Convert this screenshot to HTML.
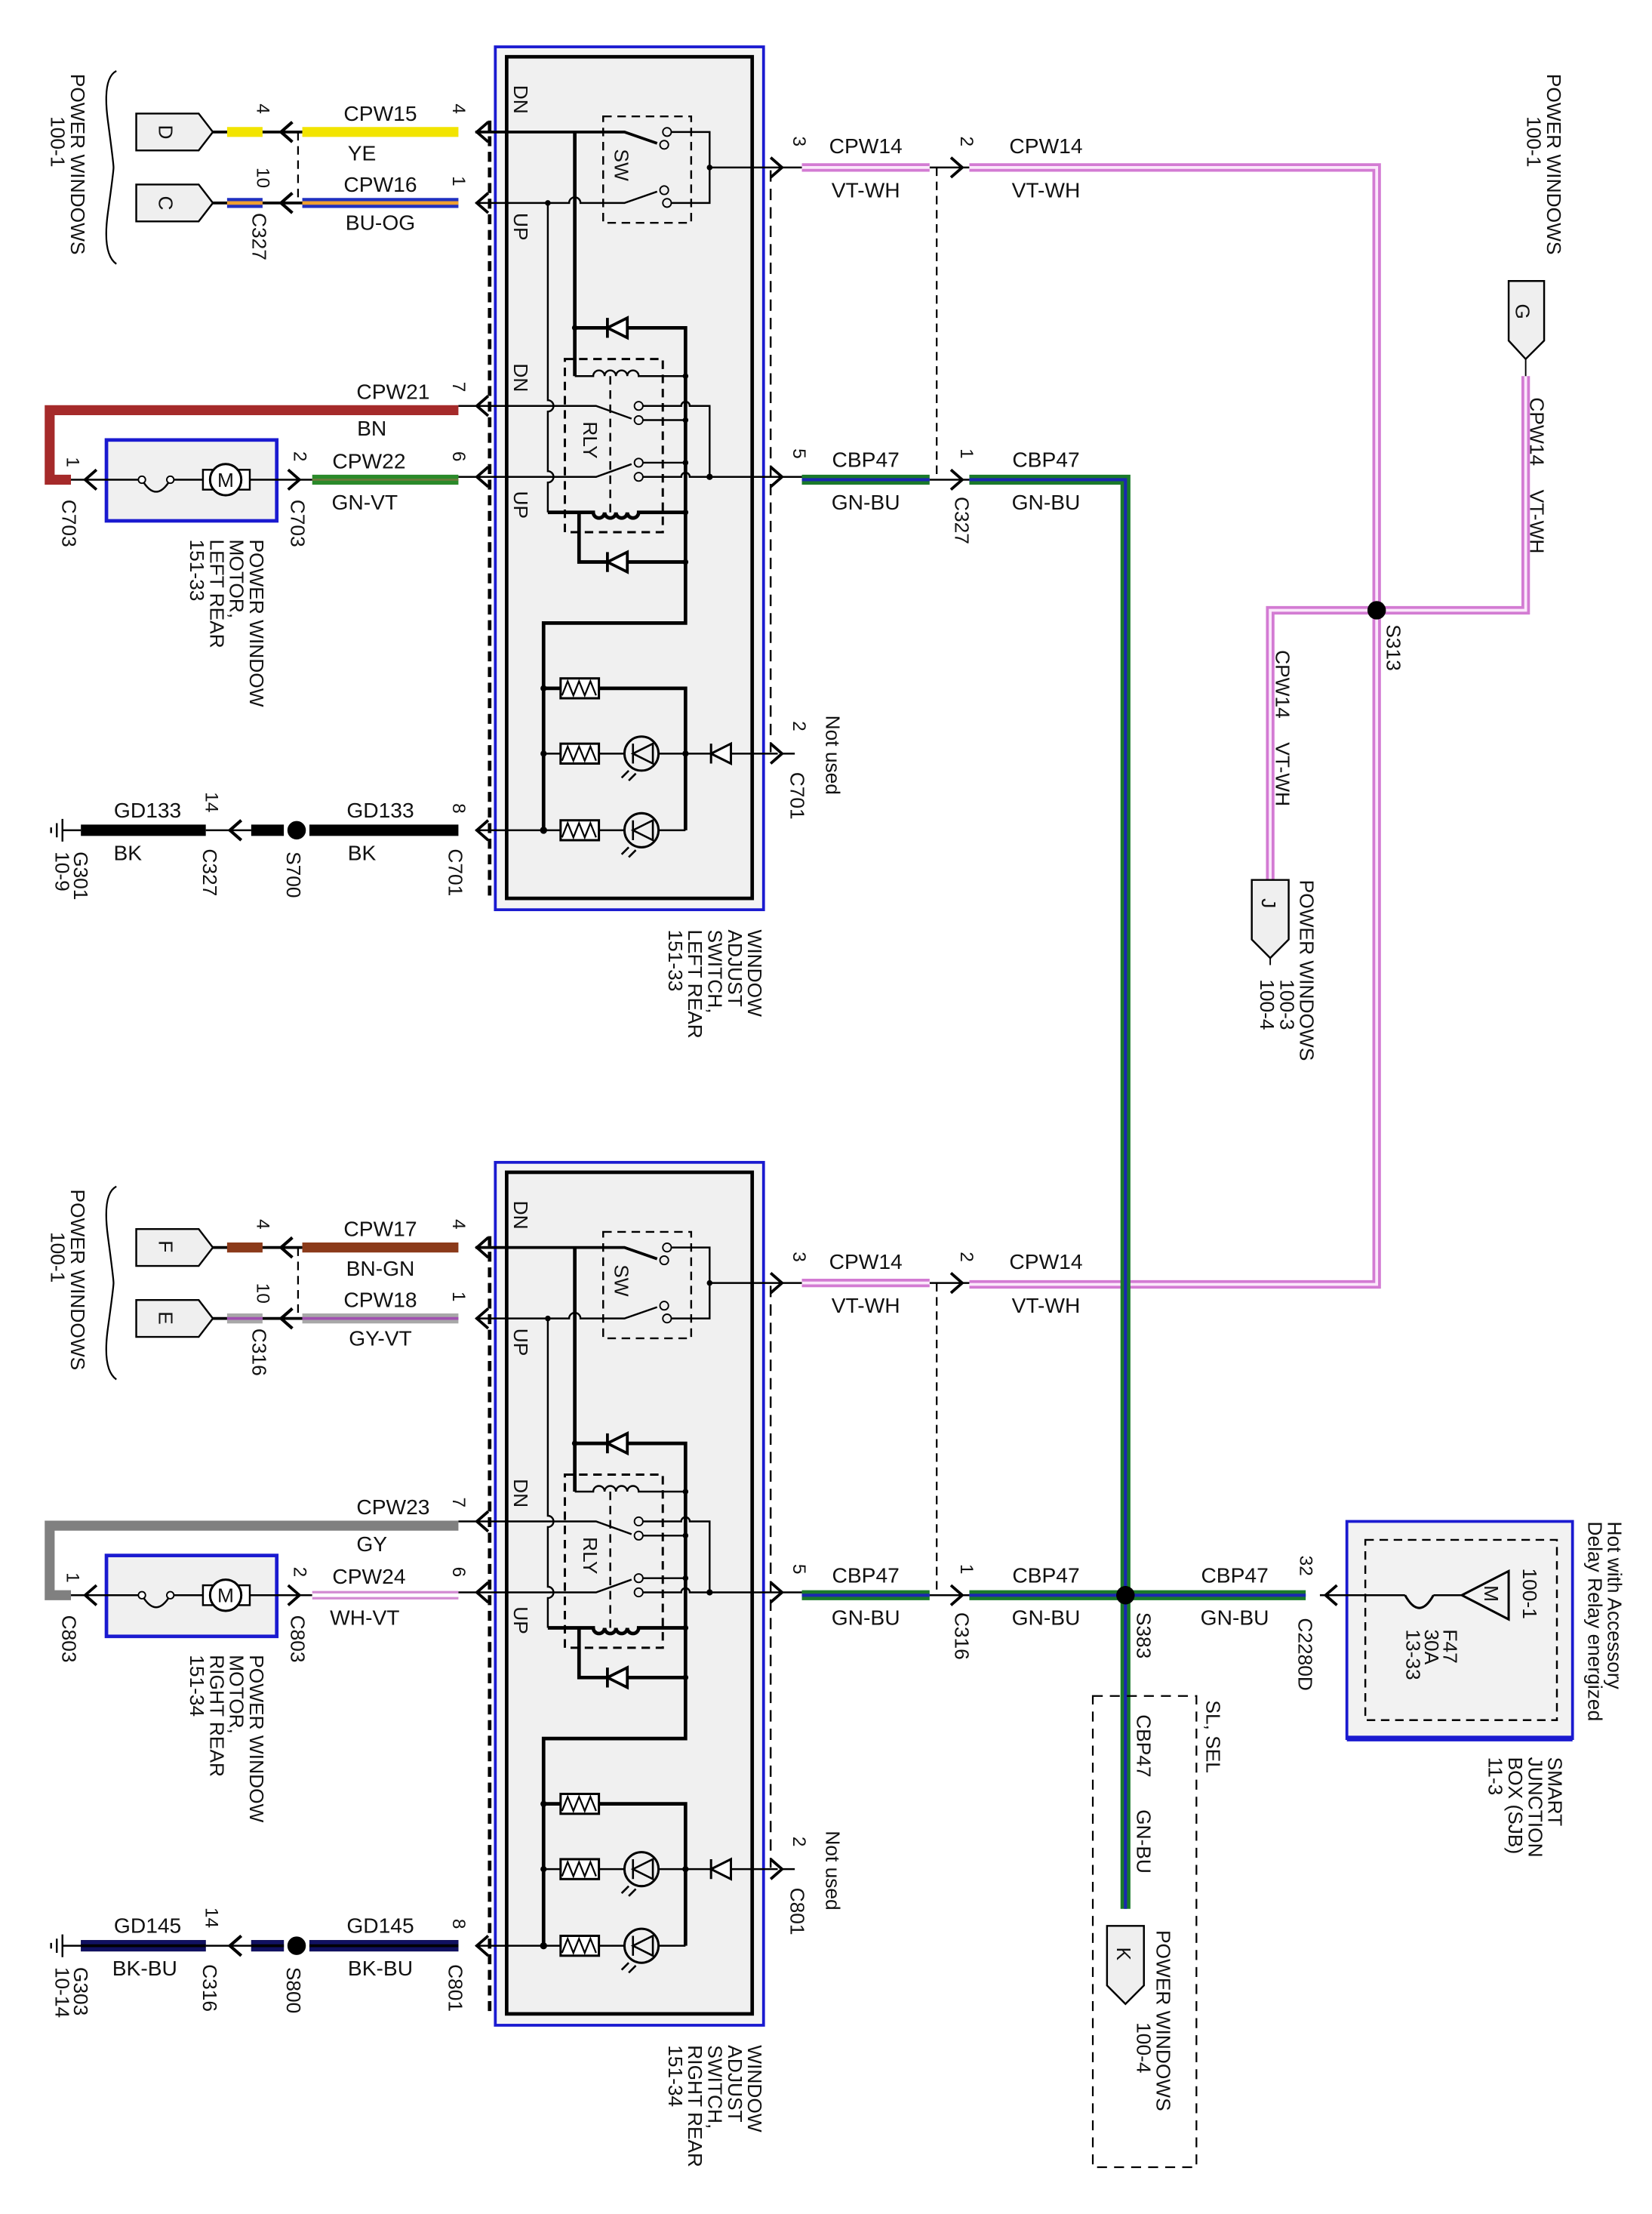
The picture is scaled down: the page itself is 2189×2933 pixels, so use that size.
<!DOCTYPE html>
<html><head><meta charset="utf-8"><style>
html,body{margin:0;padding:0;background:#fff}
svg{display:block}
text{font-family:"Liberation Sans",sans-serif;fill:#111}
.w{font-size:15px;text-anchor:middle}
.r{font-size:14px}
.p{font-size:13px}
</style></head><body>
<svg width="2189" height="2933" viewBox="0 0 1164 1560" preserveAspectRatio="none" xmlns="http://www.w3.org/2000/svg">
<defs>
<g id="ckt" fill="none" stroke="#000">
  <rect x="349" y="33" width="189" height="608" fill="#f4f4f4" stroke="#1a1ad0" stroke-width="2"/>
  <rect x="357" y="40" width="173" height="593" fill="#f0f0f0" stroke-width="2.5"/>
  <path d="M345 85V633" stroke-width="2.5" stroke-dasharray="7 4"/>
  <path d="M543 120V530" stroke-width="1.3" stroke-dasharray="8 5"/>
  <rect x="425" y="82" width="62" height="75" stroke-width="1.3" stroke-dasharray="6 4"/>
  <rect x="398" y="253" width="69" height="122" stroke-width="1.6" stroke-dasharray="6 4"/>
  <path d="M430 265V361" stroke-width="1.3" stroke-dasharray="6 4"/>
  <!-- switch -->
  <path d="M335 93H440L463 101" stroke-width="2"/>
  <path d="M335 143H401a4 4 0 0 1 8 0H440L463 135" stroke-width="1.3"/>
  <circle cx="470" cy="93" r="3"/><circle cx="468" cy="102" r="3"/>
  <circle cx="468" cy="134" r="3"/><circle cx="470" cy="143" r="3"/>
  <path d="M473 93H500V143H473M500 118H550" stroke-width="1.3"/>
  <path d="M405 93V265" stroke-width="2.5"/>
  <path d="M386 143V282a4 4 0 0 1 0 8V332a4 4 0 0 1 0 8V361" stroke-width="1.3"/>
  <!-- relay rows -->
  <path d="M335 286H420L445 295" stroke-width="1.3"/>
  <circle cx="450" cy="286" r="3"/><circle cx="450" cy="296" r="3"/>
  <path d="M453 286H480a3 3 0 0 1 6 0H500V336M453 296H483" stroke-width="1.3"/>
  <path d="M335 336H420L445 327" stroke-width="1.3"/>
  <circle cx="450" cy="326" r="3"/><circle cx="450" cy="336" r="3"/>
  <path d="M453 326H483M453 336H480a3 3 0 0 1 6 0H550" stroke-width="1.3"/>
  <!-- coils -->
  <path d="M405 265H418a4 4 0 0 1 8 0a4 4 0 0 1 8 0a4 4 0 0 1 8 0a4 4 0 0 1 8 0H483" stroke-width="1.3"/>
  <path d="M386 361H418a4 4 0 0 0 8 0a4 4 0 0 0 8 0a4 4 0 0 0 8 0a4 4 0 0 0 8 0H483" stroke-width="2.5"/>
  <!-- diodes -->
  <path d="M405 231H483V439H383V585" stroke-width="2.5"/>
  <path d="M408 361V396H483" stroke-width="2.5"/>
  <path d="M428 231L442 224V238Z M428 224V238" stroke-width="2" fill="#fff"/>
  <path d="M428 396L442 389V403Z M428 389V403" stroke-width="2" fill="#fff"/>
  <!-- LEDs -->
  <path d="M383 485H395M422 485H483V585" stroke-width="2.5"/>
  <path d="M383 531H395M422 531H440M464 531H548" stroke-width="1.3"/>
  <path d="M335 585H395M422 585H440M464 585H483" stroke-width="1.3"/>
  <path d="M501 531L515 524V538Z M501 524V538" stroke-width="1.6" fill="#fff"/>
  <g stroke-width="1.6" fill="#fff">
   <rect x="395" y="478" width="27" height="14"/><rect x="395" y="524" width="27" height="14"/><rect x="395" y="578" width="27" height="14"/>
  </g>
  <path d="M396 490l4-10l4 10l4-10l4 10l4-10l4 10M396 536l4-10l4 10l4-10l4 10l4-10l4 10M396 590l4-10l4 10l4-10l4 10l4-10l4 10" stroke-width="1.2"/>
  <circle cx="452" cy="531" r="12" stroke-width="1.6"/><circle cx="452" cy="585" r="12" stroke-width="1.6"/>
  <path d="M446 531L460 524V538Z M446 524V538M443 543l-5 5M448 545l-5 5" stroke-width="1.4"/>
  <path d="M446 585L460 578V592Z M446 578V592M443 597l-5 5M448 599l-5 5" stroke-width="1.4"/>
  <!-- dots -->
  <g fill="#000" stroke="none">
   <circle cx="500" cy="118" r="2"/><circle cx="386" cy="143" r="2"/><circle cx="483" cy="265" r="2"/><circle cx="483" cy="296" r="2"/><circle cx="483" cy="326" r="2"/><circle cx="500" cy="336" r="2.2"/><circle cx="483" cy="361" r="2"/><circle cx="483" cy="396" r="2"/><circle cx="405" cy="231" r="2"/>
   <circle cx="383" cy="485" r="2.2"/><circle cx="383" cy="531" r="2.2"/><circle cx="383" cy="585" r="2.5"/><circle cx="483" cy="531" r="2.2"/>
  </g>
  <!-- pin arrows -->
  <path d="M344 86L336 93L344 100M344 136L336 143L344 150M344 279L336 286L344 293M344 329L336 336L344 343M344 578L336 585L344 592" stroke-width="2"/>
  <path d="M543 111L551 118L543 125M543 329L551 336L543 343M543 524L551 531L543 538" stroke-width="2"/>
  <path d="M551 118H565M551 336H565M551 531H560M323 286H335M323 336H335" stroke-width="1.3"/>
  <!-- left side -->
  <path d="M210 93V143M660 118V338" stroke-width="1.2" stroke-dasharray="6 4"/>
  <path d="M150 93H213M150 143H213" stroke-width="2"/>
  <path d="M206 86L198 93L206 100M206 136L198 143L206 150" stroke-width="2.2"/>
  <path d="M670 111L678 118L670 125M670 331L678 338L670 345" stroke-width="2"/>
  <path d="M655 118H683M655 338H683" stroke-width="1.3"/>
  <polygon points="96,80 140,80 150,93 140,106 96,106" fill="#efefef" stroke-width="1.3"/>
  <polygon points="96,130 140,130 150,143 140,156 96,156" fill="#efefef" stroke-width="1.3"/>
  <path d="M82 50Q72 55 76 85T80 118T76 150T82 186" stroke-width="1.2"/>
  <!-- motor -->
  <rect x="75" y="310" width="120" height="57" fill="#f0f0f0" stroke="#1a1ad0" stroke-width="2.5"/>
  <path d="M48 338H100M120 338H146M170 338H220" stroke-width="1.3"/>
  <path d="M100 338Q110 355 120 338" stroke-width="1.3"/>
  <circle cx="100" cy="338" r="2.5" fill="#fff"/><circle cx="120" cy="338" r="2.5" fill="#fff"/>
  <rect x="143" y="331" width="33" height="14" fill="#fff" stroke-width="1.3"/>
  <circle cx="159" cy="338" r="11" fill="#fff" stroke-width="1.6"/>
  <path d="M68 331L60 338L68 345M203 331L211 338L203 345" stroke-width="2"/>
  <!-- ground row -->
  <path d="M57 585H145M177 585H200M218 585H323" stroke-width="8"/>
  <circle cx="209" cy="585" r="6" fill="#000"/>
  <path d="M170 578L162 585L170 592" stroke-width="2.2"/>
  <path d="M145 585H177" stroke-width="1.3"/>
  <path d="M44 585H57M44 577V593M40 580V590M36 583V587" stroke-width="1.3"/>
</g>
</defs>

<use href="#ckt"/>
<use href="#ckt" y="786"/>

<!-- TOP WIRES -->
<path d="M213 93H323M160 93H185" stroke="#f2e400" stroke-width="7"/>
<path d="M213 143H323M160 143H185" stroke="#2030c0" stroke-width="7"/>
<path d="M213 143H323M160 143H185" stroke="#f0a030" stroke-width="2.5"/>
<path d="M323 289H35V338H50" fill="none" stroke="#a52a2a" stroke-width="7"/>
<path d="M220 338H323" stroke="#2a8a2a" stroke-width="7"/>
<path d="M220 338H323" stroke="#6a7a3a" stroke-width="1.5"/>
<!-- right pink -->
<path d="M565 118H655M683 118H970V905H683M565 904H655M970 430H1075V265M970 430H895V620" fill="none" stroke="#d37bd3" stroke-width="6"/>
<path d="M565 118H655M683 118H970V905H683M565 904H655M970 430H1075V265M970 430H895V620" fill="none" stroke="#fbe8fb" stroke-width="2"/>
<!-- green -->
<path d="M565 338H655M683 338H793V1345M565 1124H655M683 1124H920" fill="none" stroke="#1a7a2a" stroke-width="7"/>
<path d="M565 338H655M683 338H793V1345M565 1124H655M683 1124H920" fill="none" stroke="#1a28b0" stroke-width="2.2"/>
<circle cx="970" cy="430" r="6.5" fill="#000"/>
<circle cx="793" cy="1124" r="6.5" fill="#000"/>
<!-- bottom wires -->
<path d="M213 879H323M160 879H185" stroke="#8b3a1a" stroke-width="7"/>
<path d="M213 929H323M160 929H185" stroke="#a8a8a8" stroke-width="7"/>
<path d="M213 929H323M160 929H185" stroke="#a050b0" stroke-width="2"/>
<path d="M323 1075H35V1124H50" fill="none" stroke="#808080" stroke-width="7"/>
<path d="M220 1124H323" stroke="#d38bd3" stroke-width="6"/>
<path d="M220 1124H323" stroke="#ffffff" stroke-width="2.5"/>
<path d="M57 1371H145M177 1371H200M218 1371H323" stroke="#101060" stroke-width="8"/>
<path d="M57 1371H145M177 1371H200M218 1371H323" stroke="#000" stroke-width="2"/>

<!-- connectors G J K -->
<g fill="#efefef" stroke="#000" stroke-width="1.3">
<polygon points="1063,198 1088,198 1088,240 1075,253 1063,240"/>
<polygon points="882,620 908,620 908,662 895,675 882,662"/>
<polygon points="780,1357 806,1357 806,1399 793,1412 780,1399"/>
</g>
<path d="M1075 253V265M895 675V680" stroke="#000"/>
<!-- SJB -->
<rect x="949" y="1072" width="159" height="153" fill="#f2f2f2" stroke="#1a1ad0" stroke-width="2"/>
<path d="M949 1225H1108" stroke="#1a1ad0" stroke-width="4"/>
<rect x="962" y="1085" width="135" height="127" fill="none" stroke="#000" stroke-width="1.3" stroke-dasharray="6 4"/>
<path d="M930 1124H990M1010 1124H1030" stroke="#000" stroke-width="1.3" fill="none"/>
<path d="M990 1124Q1000 1142 1010 1124" stroke="#000" stroke-width="1.6" fill="none"/>
<polygon points="1030,1124 1063,1107 1063,1141" fill="none" stroke="#000" stroke-width="1.6"/>
<path d="M942 1117L934 1124L942 1131" stroke="#000" stroke-width="2" fill="none"/>
<rect x="770" y="1195" width="73" height="332" fill="none" stroke="#000" stroke-width="1.2" stroke-dasharray="7 5"/>

<!-- TEXTS: horizontal wire labels -->
<g class="w">
<text x="268" y="85">CPW15</text><text x="255" y="113">YE</text>
<text x="268" y="135">CPW16</text><text x="268" y="162">BU-OG</text>
<text x="277" y="281">CPW21</text><text x="262" y="307">BN</text>
<text x="260" y="330">CPW22</text><text x="257" y="359">GN-VT</text>
<text x="104" y="576">GD133</text><text x="90" y="606">BK</text>
<text x="268" y="576">GD133</text><text x="255" y="606">BK</text>
<text x="610" y="108">CPW14</text><text x="610" y="139">VT-WH</text>
<text x="737" y="108">CPW14</text><text x="737" y="139">VT-WH</text>
<text x="610" y="329">CBP47</text><text x="610" y="359">GN-BU</text>
<text x="737" y="329">CBP47</text><text x="737" y="359">GN-BU</text>

<text x="268" y="871">CPW17</text><text x="268" y="899">BN-GN</text>
<text x="268" y="921">CPW18</text><text x="268" y="948">GY-VT</text>
<text x="277" y="1067">CPW23</text><text x="262" y="1093">GY</text>
<text x="260" y="1116">CPW24</text><text x="257" y="1145">WH-VT</text>
<text x="104" y="1362">GD145</text><text x="102" y="1392">BK-BU</text>
<text x="268" y="1362">GD145</text><text x="268" y="1392">BK-BU</text>
<text x="610" y="894">CPW14</text><text x="610" y="925">VT-WH</text>
<text x="737" y="894">CPW14</text><text x="737" y="925">VT-WH</text>
<text x="610" y="1115">CBP47</text><text x="610" y="1145">GN-BU</text>
<text x="737" y="1115">CBP47</text><text x="737" y="1145">GN-BU</text>
<text x="870" y="1115">CBP47</text><text x="870" y="1145">GN-BU</text>
</g>

<g class="p">
<text transform="translate(181,73) rotate(90)">4</text>
<text transform="translate(181,118) rotate(90)">10</text>
<text transform="translate(319,73) rotate(90)">4</text>
<text transform="translate(319,124) rotate(90)">1</text>
<text transform="translate(319,269) rotate(90)">7</text>
<text transform="translate(319,318) rotate(90)">6</text>
<text transform="translate(207,318) rotate(90)">2</text>
<text transform="translate(47,322) rotate(90)">1</text>
<text transform="translate(145,558) rotate(90)">14</text>
<text transform="translate(319,566) rotate(90)">8</text>
<text transform="translate(559,96) rotate(90)">3</text>
<text transform="translate(677,96) rotate(90)">2</text>
<text transform="translate(559,316) rotate(90)">5</text>
<text transform="translate(677,316) rotate(90)">1</text>
<text transform="translate(559,508) rotate(90)">2</text>
<text transform="translate(181,859) rotate(90)">4</text>
<text transform="translate(181,904) rotate(90)">10</text>
<text transform="translate(319,859) rotate(90)">4</text>
<text transform="translate(319,910) rotate(90)">1</text>
<text transform="translate(319,1055) rotate(90)">7</text>
<text transform="translate(319,1104) rotate(90)">6</text>
<text transform="translate(207,1104) rotate(90)">2</text>
<text transform="translate(47,1108) rotate(90)">1</text>
<text transform="translate(145,1344) rotate(90)">14</text>
<text transform="translate(319,1352) rotate(90)">8</text>
<text transform="translate(559,882) rotate(90)">3</text>
<text transform="translate(677,882) rotate(90)">2</text>
<text transform="translate(559,1102) rotate(90)">5</text>
<text transform="translate(677,1102) rotate(90)">1</text>
<text transform="translate(559,1294) rotate(90)">2</text>
<text transform="translate(916,1096) rotate(90)">32</text>
</g>

<g class="r">
<text transform="translate(50,52) rotate(90)">POWER WINDOWS<tspan x="30" dy="14">100-1</tspan></text>
<text transform="translate(112,88) rotate(90)">D</text>
<text transform="translate(112,138) rotate(90)">C</text>
<text transform="translate(178,150) rotate(90)">C327</text>
<text transform="translate(44,352) rotate(90)">C703</text>
<text transform="translate(205,352) rotate(90)">C703</text>
<text transform="translate(176,380) rotate(90)">POWER WINDOW<tspan x="0" dy="14">MOTOR,</tspan><tspan x="0" dy="14">LEFT REAR</tspan><tspan x="0" dy="14">151-33</tspan></text>
<text transform="translate(52,600) rotate(90)">G301<tspan x="0" dy="13">10-9</tspan></text>
<text transform="translate(143,598) rotate(90)">C327</text>
<text transform="translate(202,600) rotate(90)">S700</text>
<text transform="translate(316,598) rotate(90)">C701</text>
<text transform="translate(362,60) rotate(90)">DN</text>
<text transform="translate(362,150) rotate(90)">UP</text>
<text transform="translate(362,256) rotate(90)">DN</text>
<text transform="translate(362,346) rotate(90)">UP</text>
<text transform="translate(433,105) rotate(90)">SW</text>
<text transform="translate(411,297) rotate(90)">RLY</text>
<text transform="translate(582,504) rotate(90)">Not used</text>
<text transform="translate(557,544) rotate(90)">C701</text>
<text transform="translate(527,655) rotate(90)">WINDOW<tspan x="0" dy="14">ADJUST</tspan><tspan x="0" dy="14">SWITCH,</tspan><tspan x="0" dy="14">LEFT REAR</tspan><tspan x="0" dy="14">151-33</tspan></text>
<text transform="translate(673,350) rotate(90)">C327</text>
<text transform="translate(1090,52) rotate(90)">POWER WINDOWS<tspan x="30" dy="14">100-1</tspan></text>
<text transform="translate(1068,214) rotate(90)">G</text>
<text transform="translate(1078,280) rotate(90)">CPW14</text>
<text transform="translate(1078,345) rotate(90)">VT-WH</text>
<text transform="translate(977,440) rotate(90)">S313</text>
<text transform="translate(899,458) rotate(90)">CPW14</text>
<text transform="translate(899,523) rotate(90)">VT-WH</text>
<text transform="translate(889,633) rotate(90)">J</text>
<text transform="translate(916,620) rotate(90)">POWER WINDOWS<tspan x="70" dy="14">100-3</tspan><tspan x="70" dy="14">100-4</tspan></text>

<text transform="translate(50,838) rotate(90)">POWER WINDOWS<tspan x="30" dy="14">100-1</tspan></text>
<text transform="translate(112,874) rotate(90)">F</text>
<text transform="translate(112,924) rotate(90)">E</text>
<text transform="translate(178,936) rotate(90)">C316</text>
<text transform="translate(44,1138) rotate(90)">C803</text>
<text transform="translate(205,1138) rotate(90)">C803</text>
<text transform="translate(176,1166) rotate(90)">POWER WINDOW<tspan x="0" dy="14">MOTOR,</tspan><tspan x="0" dy="14">RIGHT REAR</tspan><tspan x="0" dy="14">151-34</tspan></text>
<text transform="translate(52,1386) rotate(90)">G303<tspan x="0" dy="13">10-14</tspan></text>
<text transform="translate(143,1384) rotate(90)">C316</text>
<text transform="translate(202,1386) rotate(90)">S800</text>
<text transform="translate(316,1384) rotate(90)">C801</text>
<text transform="translate(362,846) rotate(90)">DN</text>
<text transform="translate(362,936) rotate(90)">UP</text>
<text transform="translate(362,1042) rotate(90)">DN</text>
<text transform="translate(362,1132) rotate(90)">UP</text>
<text transform="translate(433,891) rotate(90)">SW</text>
<text transform="translate(411,1083) rotate(90)">RLY</text>
<text transform="translate(582,1290) rotate(90)">Not used</text>
<text transform="translate(557,1330) rotate(90)">C801</text>
<text transform="translate(527,1441) rotate(90)">WINDOW<tspan x="0" dy="14">ADJUST</tspan><tspan x="0" dy="14">SWITCH,</tspan><tspan x="0" dy="14">RIGHT REAR</tspan><tspan x="0" dy="14">151-34</tspan></text>
<text transform="translate(673,1136) rotate(90)">C316</text>
<text transform="translate(801,1136) rotate(90)">S383</text>
<text transform="translate(915,1140) rotate(90)">C2280D</text>
<text transform="translate(1133,1072) rotate(90)">Hot with Accessory<tspan x="0" dy="14">Delay Relay energized</tspan></text>
<text transform="translate(1073,1105) rotate(90)">100-1</text>
<text transform="translate(1046,1117) rotate(90)">M</text>
<text transform="translate(1017,1148) rotate(90)">F47<tspan x="0" dy="13">30A</tspan><tspan x="0" dy="13">13-33</tspan></text>
<text transform="translate(1091,1238) rotate(90)">SMART<tspan x="0" dy="14">JUNCTION</tspan><tspan x="0" dy="14">BOX (SJB)</tspan><tspan x="0" dy="14">11-3</tspan></text>
<text transform="translate(850,1198) rotate(90)">SL, SEL</text>
<text transform="translate(801,1208) rotate(90)">CBP47</text>
<text transform="translate(801,1275) rotate(90)">GN-BU</text>
<text transform="translate(787,1372) rotate(90)">K</text>
<text transform="translate(815,1360) rotate(90)">POWER WINDOWS<tspan x="65" dy="14">100-4</tspan></text>
</g>
<g font-size="14" text-anchor="middle">
<text x="159" y="343">M</text>
<text x="159" y="1129">M</text>
</g>
</svg>
</body></html>
